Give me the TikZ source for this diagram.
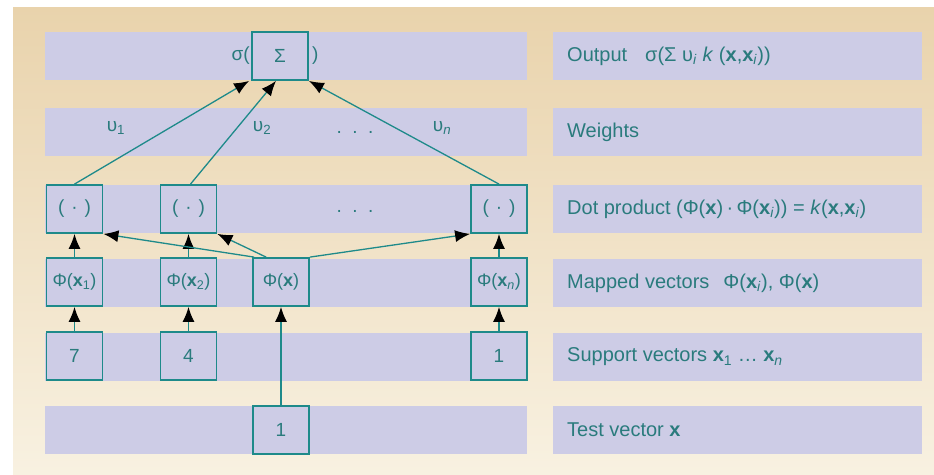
\documentclass[tikz,border=0pt]{standalone}
\usepackage{fontspec}
\setmainfont{Liberation Sans}
\usetikzlibrary{arrows.meta}
\definecolor{bgA}{HTML}{E9D3AC}
\definecolor{bgB}{HTML}{F8F1E1}
\definecolor{bandc}{HTML}{CDCCE6}
\definecolor{tealc}{HTML}{1E8A8A}
\definecolor{txtc}{HTML}{2A7B7D}
\newcommand{\sbs}[1]{\textsubscript{#1}}
\newcommand{\dotp}{(\hspace{7pt}·\hspace{7pt})}
\begin{document}
\begin{tikzpicture}[x=1pt,y=-1pt,
  box/.style={draw=tealc, line width=1.8pt, fill=bandc, minimum width=56pt, minimum height=48pt, inner sep=0pt, text=txtc, font=\fontsize{18}{20}\selectfont},
  bigbox/.style={box, font=\fontsize{19}{21}\selectfont},
  arr/.style={draw=tealc, line width=1.3pt, -{Latex[length=15pt,width=12pt,color=black]}},
  lab/.style={text=txtc, font=\fontsize{20}{22}\selectfont, anchor=west, inner sep=0pt},
  wlab/.style={text=txtc, font=\fontsize{19}{21}\selectfont, inner sep=0pt}
]
\useasboundingbox (0,0) rectangle (934,474);
\shade[top color=bgA, bottom color=bgB] (13,7) rectangle (934,474);
\foreach \c in {56,132,209,283,357,430}{
  \fill[bandc] (45,\c-24) rectangle (527,\c+24);
  \fill[bandc] (553,\c-24) rectangle (922,\c+24);
}
% nodes
\node[bigbox] (s) at (280,56) {Σ};
\node[wlab, anchor=east] (sl) at (250,56) {σ(};
\node[wlab, anchor=west] (sr) at (312,56) {)};

\node[bigbox] (d1) at (74.5,209) {\dotp};
\node[bigbox] (d2) at (188.5,209) {\dotp};
\node[bigbox] (dn) at (499,209) {\dotp};
\node[wlab] (ddots) at (355,211) {.\ \ .\ \ .};

\node[box] (m1) at (74.5,282) {Φ(\textbf{x}\sbs{1})};
\node[box] (m2) at (188.5,282) {Φ(\textbf{x}\sbs{2})};
\node[box] (mx) at (281,282) {Φ(\textbf{x})};
\node[box] (mn) at (499,282) {Φ(\textbf{x}\sbs{\textit{n}})};

\node[bigbox] (v1) at (74.5,356) {7};
\node[bigbox] (v2) at (188.5,356) {4};
\node[bigbox] (vn) at (499,356) {1};

\node[bigbox] (t) at (281,430) {1};

% weight labels
\node[wlab] (w1) at (116,128) {υ\sbs{1}};
\node[wlab] (w2) at (262,128) {υ\sbs{2}};
\node[wlab] (wd) at (355,132) {.\ \ .\ \ .};
\node[wlab] (wn) at (442,128) {υ\sbs{\textit{n}}};

% arrows
\draw[arr] (d1.north) -- ([xshift=-2pt]s.south west);
\draw[arr] ([xshift=2pt]d2.north) -- ([xshift=-4pt]s.south);
\draw[arr] (dn.north) -- (s.south east);

\draw[arr] (m1) -- (d1);
\draw[arr] (m2) -- (d2);
\draw[arr] (mn) -- (dn);
\draw[arr] ([xshift=2pt]mx.north west) -- (d1.south east);
\draw[arr] ([xshift=14pt]mx.north west) -- (d2.south east);
\draw[arr] (mx.north east) -- (dn.south west);

\draw[arr] (v1) -- (m1);
\draw[arr] (v2) -- (m2);
\draw[arr] (vn) -- (mn);
\draw[arr] (t) -- (mx);

% right labels
\node[lab] (l1) at (567,56) {Output\hspace{18pt}σ(Σ υ\sbs{\textit{i}} \textit{k} (\textbf{x},\textbf{x}\sbs{\textit{i}}))};
\node[lab] (l2) at (567,132) {Weights};
\node[lab] (l3) at (567,209) {Dot product (Φ(\textbf{x})\,·\,Φ(\textbf{x}\sbs{\textit{i}})) = \textit{k}(\textbf{x},\textbf{x}\sbs{\textit{i}})};
\node[lab] (l4) at (567,283) {Mapped vectors\hspace{14pt}Φ(\textbf{x}\sbs{\textit{i}}), Φ(\textbf{x})};
\node[lab] (l5) at (567,357) {Support vectors \textbf{x}\sbs{1} \ldots\ \textbf{x}\sbs{\textit{n}}};
\node[lab] (l6) at (567,430) {Test vector \textbf{x}};
\end{tikzpicture}
\end{document}
